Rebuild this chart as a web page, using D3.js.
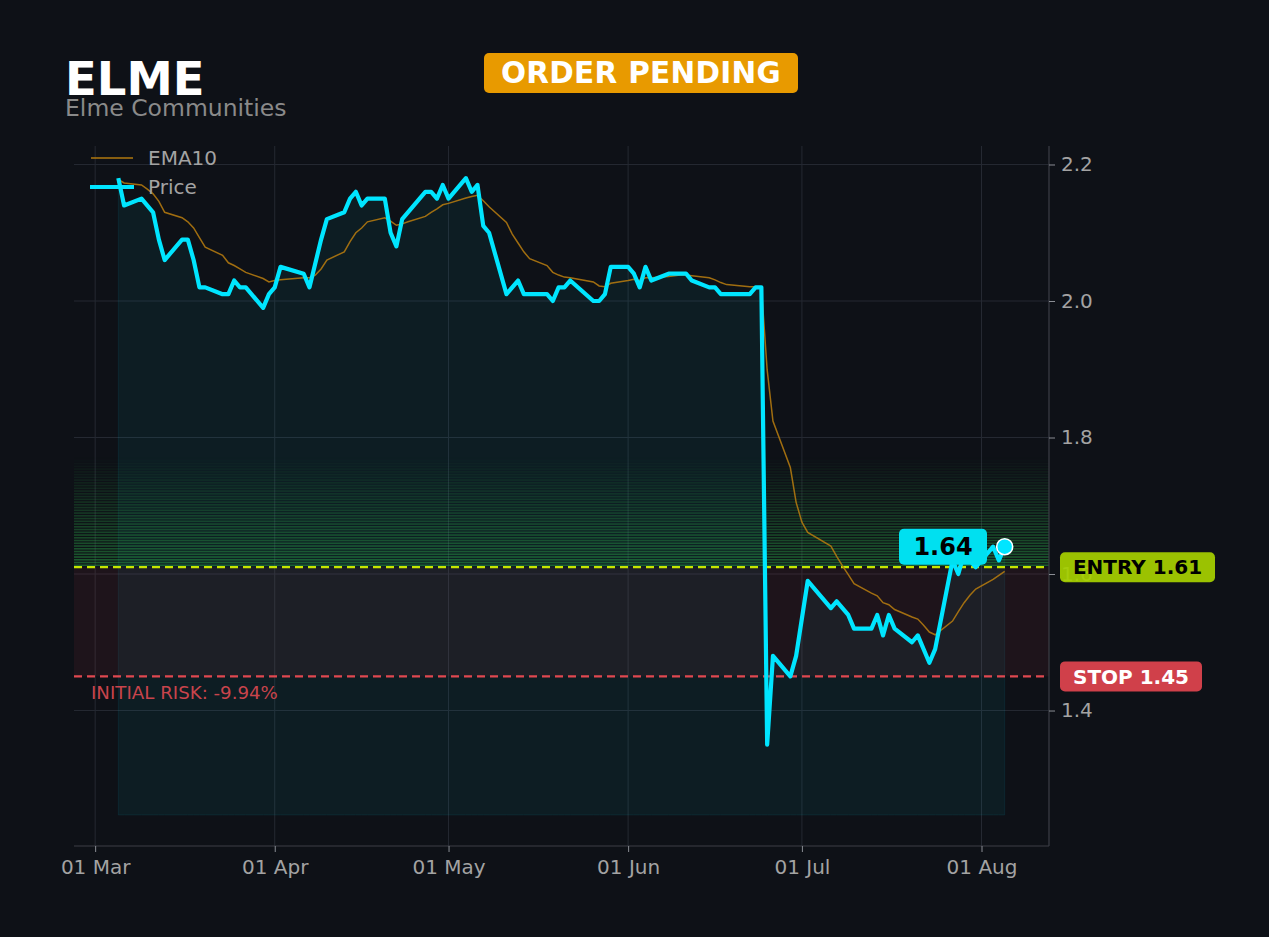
<!DOCTYPE html>
<html>
<head>
<meta charset="utf-8">
<script src="https://cdn.jsdelivr.net/npm/d3@7"></script>
<style>
  html, body { margin: 0; padding: 0; background: #0e1117; }
  svg { display: block; font-family: "DejaVu Sans", sans-serif; }
</style>
</head>
<body>
<div id="chart"></div>
<script>
// ELME trade setup chart: price, EMA10, entry / stop zones

const W = 1269;
const H = 937;
const plot = { left: 74, right: 1049, top: 146, bottom: 846 };

// ---- data ----
const priceDates = [
  "2026-03-05", "2026-03-06", "2026-03-09", "2026-03-11", "2026-03-12", "2026-03-13",
  "2026-03-16", "2026-03-17", "2026-03-18", "2026-03-19", "2026-03-20", "2026-03-23",
  "2026-03-24", "2026-03-25", "2026-03-26", "2026-03-27", "2026-03-30", "2026-03-31",
  "2026-04-01", "2026-04-02", "2026-04-06", "2026-04-07", "2026-04-09", "2026-04-10",
  "2026-04-13", "2026-04-14", "2026-04-15", "2026-04-16", "2026-04-17", "2026-04-20",
  "2026-04-21", "2026-04-22", "2026-04-23", "2026-04-27", "2026-04-28", "2026-04-29",
  "2026-04-30", "2026-05-01", "2026-05-04", "2026-05-05", "2026-05-06", "2026-05-07",
  "2026-05-08", "2026-05-11", "2026-05-13", "2026-05-14", "2026-05-18", "2026-05-19",
  "2026-05-20", "2026-05-21", "2026-05-22", "2026-05-26", "2026-05-27", "2026-05-28",
  "2026-05-29", "2026-06-01", "2026-06-02", "2026-06-03", "2026-06-04", "2026-06-05",
  "2026-06-08", "2026-06-11", "2026-06-12", "2026-06-15", "2026-06-16", "2026-06-17",
  "2026-06-22", "2026-06-23", "2026-06-24", "2026-06-25", "2026-06-26", "2026-06-29",
  "2026-06-30", "2026-07-02", "2026-07-06", "2026-07-07", "2026-07-09", "2026-07-10",
  "2026-07-13", "2026-07-14", "2026-07-15", "2026-07-16", "2026-07-17", "2026-07-20",
  "2026-07-21", "2026-07-23", "2026-07-24", "2026-07-27", "2026-07-28", "2026-07-29",
  "2026-07-31", "2026-08-03", "2026-08-04", "2026-08-05"
];
const priceValues = [
  2.18, 2.14, 2.15, 2.13, 2.09, 2.06,
  2.09, 2.09, 2.06, 2.02, 2.02, 2.01,
  2.01, 2.03, 2.02, 2.02, 1.99, 2.01,
  2.02, 2.05, 2.04, 2.02, 2.09, 2.12,
  2.13, 2.15, 2.16, 2.14, 2.15, 2.15,
  2.10, 2.08, 2.12, 2.16, 2.16, 2.15,
  2.17, 2.15, 2.18, 2.16, 2.17, 2.11,
  2.10, 2.01, 2.03, 2.01, 2.01, 2.00,
  2.02, 2.02, 2.03, 2.00, 2.00, 2.01,
  2.05, 2.05, 2.04, 2.02, 2.05, 2.03,
  2.04, 2.04, 2.03, 2.02, 2.02, 2.01,
  2.01, 2.02, 2.02, 1.35, 1.48, 1.45,
  1.48, 1.59, 1.55, 1.56, 1.54, 1.52,
  1.52, 1.54, 1.51, 1.54, 1.52, 1.50,
  1.51, 1.47, 1.49, 1.62, 1.60, 1.63,
  1.61, 1.64, 1.62, 1.64
];

const emaDates = [
  "2026-03-05", "2026-03-06", "2026-03-09", "2026-03-10", "2026-03-11", "2026-03-12",
  "2026-03-13", "2026-03-16", "2026-03-17", "2026-03-18", "2026-03-19", "2026-03-20",
  "2026-03-23", "2026-03-24", "2026-03-25", "2026-03-26", "2026-03-27", "2026-03-30",
  "2026-03-31", "2026-04-01", "2026-04-02", "2026-04-06", "2026-04-07", "2026-04-08",
  "2026-04-09", "2026-04-10", "2026-04-13", "2026-04-14", "2026-04-15", "2026-04-16",
  "2026-04-17", "2026-04-20", "2026-04-21", "2026-04-22", "2026-04-23", "2026-04-24",
  "2026-04-27", "2026-04-28", "2026-04-29", "2026-04-30", "2026-05-01", "2026-05-04",
  "2026-05-05", "2026-05-06", "2026-05-07", "2026-05-08", "2026-05-11", "2026-05-12",
  "2026-05-13", "2026-05-14", "2026-05-15", "2026-05-18", "2026-05-19", "2026-05-20",
  "2026-05-21", "2026-05-22", "2026-05-26", "2026-05-27", "2026-05-28", "2026-05-29",
  "2026-06-01", "2026-06-02", "2026-06-03", "2026-06-04", "2026-06-05", "2026-06-08",
  "2026-06-09", "2026-06-10", "2026-06-11", "2026-06-12", "2026-06-15", "2026-06-16",
  "2026-06-17", "2026-06-18", "2026-06-22", "2026-06-23", "2026-06-24", "2026-06-25",
  "2026-06-26", "2026-06-29", "2026-06-30", "2026-07-01", "2026-07-02", "2026-07-06",
  "2026-07-07", "2026-07-08", "2026-07-09", "2026-07-10", "2026-07-13", "2026-07-14",
  "2026-07-15", "2026-07-16", "2026-07-17", "2026-07-20", "2026-07-21", "2026-07-22",
  "2026-07-23", "2026-07-24", "2026-07-27", "2026-07-28", "2026-07-29", "2026-07-30",
  "2026-07-31", "2026-08-03", "2026-08-04", "2026-08-05"
];
const emaValues = [
  2.178, 2.173, 2.170, 2.164, 2.157, 2.146,
  2.130, 2.122, 2.116, 2.107, 2.093, 2.079,
  2.067, 2.056, 2.052, 2.047, 2.042, 2.033,
  2.028, 2.030, 2.031, 2.034, 2.034, 2.038,
  2.047, 2.060, 2.072, 2.087, 2.100, 2.107,
  2.116, 2.122, 2.117, 2.111, 2.113, 2.116,
  2.124, 2.130, 2.135, 2.141, 2.143, 2.151,
  2.153, 2.155, 2.147, 2.138, 2.115, 2.098,
  2.085, 2.072, 2.062, 2.052, 2.042, 2.038,
  2.035, 2.034, 2.028, 2.022, 2.021, 2.026,
  2.030, 2.032, 2.030, 2.034, 2.034, 2.036,
  2.037, 2.038, 2.038, 2.037, 2.034, 2.031,
  2.027, 2.024, 2.021, 2.021, 2.021, 1.899,
  1.824, 1.756, 1.705, 1.676, 1.661, 1.641,
  1.626, 1.612, 1.599, 1.586, 1.572, 1.568,
  1.558, 1.555, 1.548, 1.537, 1.534, 1.525,
  1.515, 1.511, 1.531, 1.545, 1.558, 1.569,
  1.578, 1.592, 1.598, 1.604
];

const yTicks = [1.4, 1.6, 1.8, 2.0, 2.2];
const xTicks = ["2026-03-01", "2026-04-01", "2026-05-01", "2026-06-01", "2026-07-01", "2026-08-01"];

const entryPrice = 1.61;
const stopPrice = 1.45;
const targetTop = 1.771;   // top of the green gradient band
const fillBase = 1.247;    // floor of the area under price
const lastPrice = 1.64;
const riskText = "INITIAL RISK: -9.94%";

// ---- setup ----
const parse = d3.utcParse("%Y-%m-%d");
const price = priceDates.map((d, i) => ({ date: parse(d), value: priceValues[i] }));
const ema = emaDates.map((d, i) => ({ date: parse(d), value: emaValues[i] }));

const first = price[0].date, last = price[price.length - 1].date;
const pad = (last - first) * 0.05; // matplotlib-ish x margin

const x = d3.scaleUtc()
  .domain([new Date(+first - pad), new Date(+last + pad)])
  .range([plot.left, plot.right]);

const y = d3.scaleLinear()
  .domain([1.2015, 2.2271])
  .range([plot.bottom, plot.top]);

const svg = d3.select("#chart")
  .append("svg")
  .attr("width", W)
  .attr("height", H);

svg.append("rect").attr("width", W).attr("height", H).attr("fill", "#0e1117");

svg.append("clipPath").attr("id", "plotclip")
  .append("rect")
  .attr("x", plot.left).attr("y", plot.top)
  .attr("width", plot.right - plot.left).attr("height", plot.bottom - plot.top);

// grid
const grid = svg.append("g").attr("class", "grid");
grid.selectAll("line.gy").data(yTicks).enter().append("line")
  .attr("x1", plot.left).attr("x2", plot.right)
  .attr("y1", (d) => y(d)).attr("y2", (d) => y(d))
  .attr("stroke", "#252932").attr("stroke-width", 1);
grid.selectAll("line.gx").data(xTicks).enter().append("line")
  .attr("x1", (d) => x(parse(d))).attr("x2", (d) => x(parse(d)))
  .attr("y1", plot.top).attr("y2", plot.bottom)
  .attr("stroke", "#252932").attr("stroke-width", 1);

const zones = svg.append("g").attr("clip-path", "url(#plotclip)");

// area under price
const area = d3.area()
  .x((d) => x(d.date))
  .y0(y(fillBase))
  .y1((d) => y(d.value));

zones.append("path")
  .datum(price)
  .attr("d", area)
  .attr("fill", "#00e5ff")
  .attr("fill-opacity", 0.055)
  .attr("stroke", "#00e5ff")
  .attr("stroke-opacity", 0.08)
  .attr("stroke-width", 1);

// risk zone (entry -> stop)
zones.append("rect")
  .attr("x", plot.left).attr("width", plot.right - plot.left)
  .attr("y", y(entryPrice)).attr("height", y(stopPrice) - y(entryPrice))
  .attr("fill", "#e0404a").attr("fill-opacity", 0.08);

// green gradient band above entry, drawn as thin stripes
const nBands = 40;
const bandStep = (targetTop - entryPrice) / nBands;
zones.selectAll("rect.band")
  .data(d3.range(nBands))
  .enter()
  .append("rect")
  .attr("class", "band")
  .attr("x", plot.left).attr("width", plot.right - plot.left)
  .attr("y", (i) => y(entryPrice + (i + 1) * bandStep))
  .attr("height", (i) => (y(entryPrice + i * bandStep) - y(entryPrice + (i + 1) * bandStep)) * 0.6)
  .attr("fill", "#30c050")
  .attr("fill-opacity", (i) => 0.42 * (1 - i / nBands));

// entry / stop lines
zones.append("line")
  .attr("x1", plot.left).attr("x2", plot.right)
  .attr("y1", y(entryPrice)).attr("y2", y(entryPrice))
  .attr("stroke", "#c6e600").attr("stroke-width", 2.2)
  .attr("stroke-dasharray", "8 5");
zones.append("line")
  .attr("x1", plot.left).attr("x2", plot.right)
  .attr("y1", y(stopPrice)).attr("y2", y(stopPrice))
  .attr("stroke", "#e04850").attr("stroke-width", 2.2)
  .attr("stroke-dasharray", "8 5");

// EMA10 + price
const line = d3.line().x((d) => x(d.date)).y((d) => y(d.value));

zones.append("path")
  .datum(ema)
  .attr("d", line)
  .attr("fill", "none")
  .attr("stroke", "#b0780f")
  .attr("stroke-opacity", 0.9)
  .attr("stroke-width", 1.5);

zones.append("path")
  .datum(price)
  .attr("d", line)
  .attr("fill", "none")
  .attr("stroke", "#00e5ff")
  .attr("stroke-width", 4.2)
  .attr("stroke-linejoin", "round");

// spines
svg.append("line")
  .attr("x1", plot.left).attr("x2", plot.right)
  .attr("y1", plot.bottom).attr("y2", plot.bottom)
  .attr("stroke", "#3c3f46").attr("stroke-width", 1.2);
svg.append("line")
  .attr("x1", plot.right).attr("x2", plot.right)
  .attr("y1", plot.top).attr("y2", plot.bottom)
  .attr("stroke", "#3c3f46").attr("stroke-width", 1.2);

// axes (right y, bottom x)
const yAxis = svg.append("g")
  .attr("transform", `translate(${plot.right},0)`)
  .call(d3.axisRight(y).tickValues(yTicks).tickFormat(d3.format(".1f")).tickSize(6).tickPadding(6));
const xAxis = svg.append("g")
  .attr("transform", `translate(0,${plot.bottom})`)
  .call(d3.axisBottom(x).tickValues(xTicks.map(parse)).tickFormat(d3.utcFormat("%d %b")).tickSize(6).tickPadding(8));

[yAxis, xAxis].forEach((a) => {
  a.select(".domain").remove();
  a.selectAll(".tick line").attr("stroke", "#8a8d94");
  a.selectAll(".tick text")
    .attr("fill", "#a3a3a3")
    .style("font-size", "20px")
    .style("font-family", "DejaVu Sans");
});

// legend
const legend = svg.append("g").attr("transform", "translate(91,0)");
legend.append("line").attr("x1", 0).attr("x2", 42).attr("y1", 158).attr("y2", 158)
  .attr("stroke", "#b0780f").attr("stroke-width", 1.6);
legend.append("line").attr("x1", -1).attr("x2", 43).attr("y1", 187).attr("y2", 187)
  .attr("stroke", "#00e5ff").attr("stroke-width", 4.2);
legend.append("text").attr("x", 57).attr("y", 165).text("EMA10")
  .attr("fill", "#a3a3a3").style("font-size", "20px");
legend.append("text").attr("x", 57).attr("y", 194).text("Price")
  .attr("fill", "#a3a3a3").style("font-size", "20px");

// initial risk note
svg.append("text")
  .attr("x", 91).attr("y", y(stopPrice) + 23)
  .attr("fill", "#c8444c")
  .style("font-size", "18.2px")
  .text(riskText);

// right side labels
function tag(xLeft, yMid, w, h, fill, txtColor, label, size, opacity) {
  const g = svg.append("g");
  g.append("rect")
    .attr("x", xLeft).attr("y", yMid - h / 2)
    .attr("width", w).attr("height", h)
    .attr("rx", 5).attr("ry", 5)
    .attr("fill", fill).attr("fill-opacity", opacity);
  g.append("text")
    .attr("x", xLeft + w / 2).attr("y", yMid)
    .attr("dy", "0.36em")
    .attr("text-anchor", "middle")
    .attr("fill", txtColor)
    .style("font-size", size + "px")
    .style("font-weight", "bold")
    .text(label);
  return g;
}

tag(plot.right + 11, y(entryPrice), 155, 30, "#a6d000", "#000", "ENTRY " + entryPrice.toFixed(2), 20, 0.93);
tag(plot.right + 11, y(stopPrice), 142, 30, "#d0404a", "#fff", "STOP " + stopPrice.toFixed(2), 20, 1);

// current price tag + marker
const lp = price[price.length - 1];
tag(899, y(lastPrice), 88, 36, "#00e0f0", "#000", lastPrice.toFixed(2), 24, 1);
svg.append("circle")
  .attr("cx", x(lp.date)).attr("cy", y(lp.value))
  .attr("r", 8)
  .attr("fill", "#00e5ff")
  .attr("stroke", "#ffffff").attr("stroke-width", 1.6);

// title block
svg.append("text").attr("x", 65).attr("y", 95)
  .attr("fill", "#ffffff").style("font-size", "46.5px").style("font-weight", "bold")
  .text("ELME");
svg.append("text").attr("x", 65).attr("y", 116)
  .attr("fill", "#8a8a8a").style("font-size", "23.5px")
  .text("Elme Communities");

// status badge
const badge = svg.append("g");
badge.append("rect")
  .attr("x", 484).attr("y", 53).attr("width", 314).attr("height", 40)
  .attr("rx", 5).attr("ry", 5).attr("fill", "#e89a00");
badge.append("text")
  .attr("x", 641).attr("y", 83)
  .attr("text-anchor", "middle")
  .attr("fill", "#ffffff")
  .style("font-size", "29.5px").style("font-weight", "bold")
  .style("letter-spacing", "0.3px")
  .text("ORDER PENDING");
</script>
</body>
</html>
